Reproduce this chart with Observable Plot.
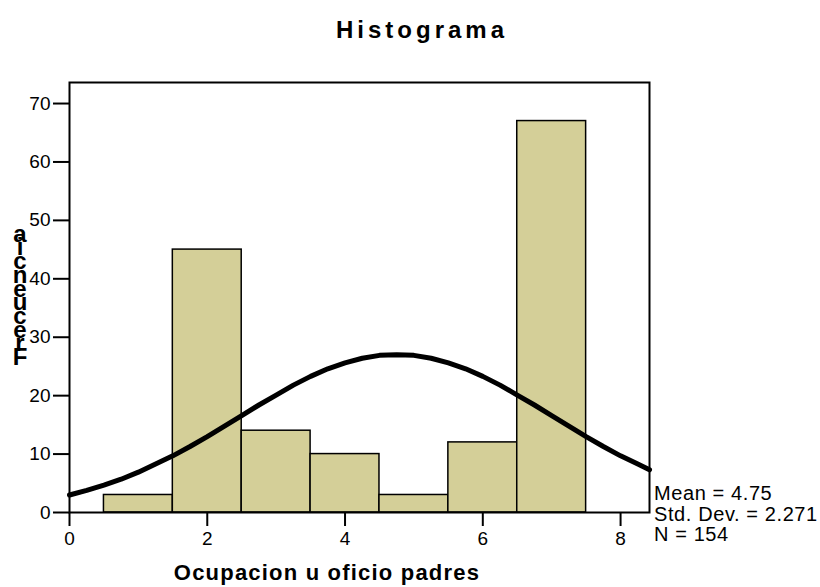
<!DOCTYPE html>
<html>
<head>
<meta charset="utf-8">
<script src="https://cdn.jsdelivr.net/npm/d3@7"></script>
<script src="https://cdn.jsdelivr.net/npm/@observablehq/plot@0.6"></script>
<style>
  html, body { margin: 0; padding: 0; background: #fff; }
  #chart { width: 820px; height: 587px; }
  svg text { font-family: "Liberation Sans", Arial, sans-serif; }
</style>
</head>
<body>
<div id="chart"></div>
<script>
// Histogram categories and counts
const categories = [1, 2, 3, 4, 5, 6, 7];
const counts = [3, 45, 14, 10, 3, 12, 67];

// Normal curve
const curveX = [0, 0.25, 0.5, 0.75, 1, 1.25, 1.5, 1.75, 2, 2.25, 2.5, 2.75, 3, 3.25, 3.5, 3.75, 4, 4.25, 4.5, 4.75, 5, 5.25, 5.5, 5.75, 6, 6.25, 6.5, 6.75, 7, 7.25, 7.5, 7.75, 8, 8.25, 8.42];
const curveY = [3.0, 3.8, 4.7, 5.7, 6.9, 8.3, 9.7, 11.3, 13.0, 14.8, 16.6, 18.4, 20.1, 21.8, 23.3, 24.6, 25.6, 26.4, 26.9, 27.0, 26.9, 26.4, 25.6, 24.6, 23.3, 21.8, 20.1, 18.4, 16.6, 14.8, 13.0, 11.3, 9.7, 8.3, 7.3];

const xTicks = [0, 2, 4, 6, 8];
const yTicks = [0, 10, 20, 30, 40, 50, 60, 70];

const titleText = "Histograma";
const xLabel = "Ocupacion u oficio padres";
const yLabel = "Frecuencia";
const statsLines = ["Mean = 4.75", "Std. Dev. = 2.271", "N = 154"];

const bars = categories.map((c, i) => ({x1: c - 0.5, x2: c + 0.5, y: counts[i]}));
const curve = curveX.map((x, i) => ({x, y: curveY[i]}));

const plot = Plot.plot({
  width: 820,
  height: 587,
  marginLeft: 69,
  marginRight: 171,
  marginTop: 82,
  marginBottom: 75,
  style: {fontFamily: "'Liberation Sans', Arial, sans-serif", background: "#fff", color: "#000", fontSize: "19px"},
  x: {domain: [0, 8.42]},
  y: {domain: [0, 73.6]},
  marks: [
    Plot.rectY(bars, {x1: "x1", x2: "x2", y: "y", fill: "#d4cf98", stroke: "#000", strokeWidth: 1.5}),
    Plot.line(curve, {x: "x", y: "y", stroke: "#000", strokeWidth: 5, curve: "linear"}),
    Plot.frame({stroke: "#000", strokeWidth: 2}),
    Plot.axisY({ticks: yTicks, tickSize: 16, tickPadding: 3, fontSize: 19, strokeWidth: 2, label: null}),
    Plot.axisX({ticks: xTicks, tickSize: 14, tickPadding: 5, fontSize: 19, strokeWidth: 2, label: null})
  ]
});

document.getElementById("chart").appendChild(plot);

const svg = d3.select(plot);
svg.append("text").attr("x", 422).attr("y", 38).attr("text-anchor", "middle")
  .attr("font-size", 24).attr("font-weight", "bold").attr("letter-spacing", 4).attr("fill", "#000")
  .text(titleText);
svg.append("text").attr("x", 327).attr("y", 580).attr("text-anchor", "middle")
  .attr("font-size", 22).attr("font-weight", "bold").attr("letter-spacing", 1.2).attr("fill", "#000")
  .text(xLabel);

// stacked y label letters (reading bottom to top)
const letters = yLabel.split("");
const g = svg.append("g");
letters.forEach((ch, i) => {
  g.append("text").attr("x", 20).attr("y", 365 - i * 13.7).attr("text-anchor", "middle")
    .attr("font-size", 24).attr("font-weight", "bold").attr("fill", "#000").text(ch);
});

statsLines.forEach((s, i) => {
  svg.append("text").attr("x", 654).attr("y", 500 + i * 20.5).attr("text-anchor", "start")
    .attr("font-size", 20).attr("letter-spacing", 0.6).attr("fill", "#000").text(s);
});
</script>
</body>
</html>
